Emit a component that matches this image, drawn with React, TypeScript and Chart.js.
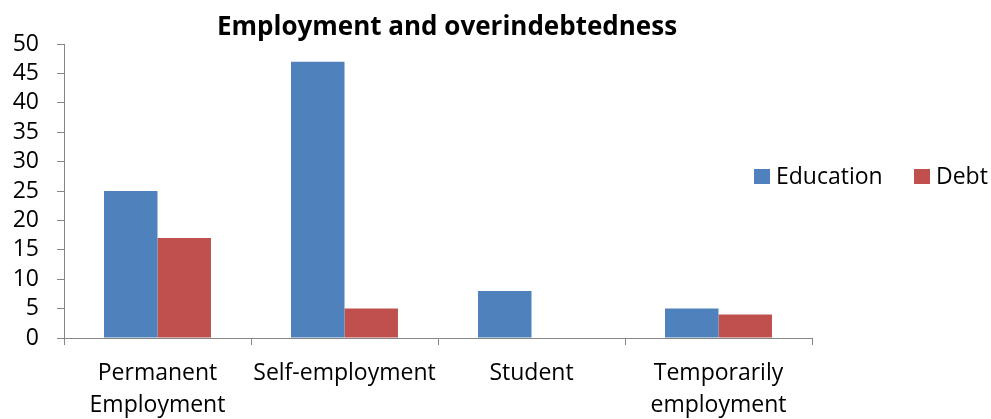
import React, { useEffect, useRef } from "react";
import { Chart, registerables } from "chart.js";

Chart.register(...registerables);

const categories: (string | string[])[] = [
  ["Permanent", "Employment"],
  "Self-employment",
  "Student",
  ["Temporarily", "employment"],
];
const educationValues = [25, 47, 8, 5];
const debtValues = [17, 5, 0, 4];
const seriesNames = ["Education", "Debt"];
const seriesColors = ["#4F81BD", "#C0504D"];
const chartTitle = "Employment and overindebtedness";

const FONT = "'Open Sans', 'DejaVu Sans', sans-serif";
const AXIS_GREY = "#868686";

// Title and the legend are painted by hand so the legend can sit beside the plot.
const titleAndLegend = {
  id: "titleAndLegend",
  afterDraw(chart: Chart) {
    const ctx = chart.ctx;
    ctx.save();
    ctx.fillStyle = "#000";
    ctx.font = `bold 26px ${FONT}`;
    ctx.textAlign = "center";
    ctx.textBaseline = "alphabetic";
    ctx.fillText(chartTitle, 447, 35);

    ctx.font = `23px ${FONT}`;
    ctx.textAlign = "left";
    ctx.textBaseline = "middle";
    const legendY = 177;
    const itemX = [754, 914];
    chart.data.datasets.forEach((ds, i) => {
      const x = itemX[i];
      ctx.fillStyle = ds.backgroundColor as string;
      ctx.fillRect(x, legendY - 8, 16, 15);
      ctx.fillStyle = "#000";
      ctx.fillText(ds.label as string, x + 22, legendY);
    });
    ctx.restore();
  },
};

export default function App() {
  const canvasRef = useRef<HTMLCanvasElement | null>(null);

  useEffect(() => {
    if (!canvasRef.current) return;
    const chart = new Chart(canvasRef.current, {
      type: "bar",
      data: {
        labels: categories,
        datasets: [
          {
            label: seriesNames[0],
            data: educationValues,
            backgroundColor: seriesColors[0],
            borderWidth: 0,
          },
          {
            label: seriesNames[1],
            data: debtValues,
            backgroundColor: seriesColors[1],
            borderWidth: 0,
          },
        ],
      },
      options: {
        animation: false,
        responsive: false,
        maintainAspectRatio: false,
        layout: { padding: { top: 44, right: 179, left: 0, bottom: 0 } },
        datasets: {
          bar: { categoryPercentage: 0.572, barPercentage: 1 },
        },
        plugins: {
          legend: { display: false },
          title: { display: false },
          tooltip: { enabled: false },
        },
        scales: {
          x: {
            grid: {
              drawOnChartArea: false,
              drawTicks: true,
              tickLength: 7,
              color: AXIS_GREY,
              offset: true,
            },
            border: { color: AXIS_GREY, width: 1 },
            ticks: {
              color: "#000",
              font: { family: FONT, size: 23, lineHeight: 1.4 },
              padding: 12,
              maxRotation: 0,
              autoSkip: false,
            },
            afterFit(scale: any) {
              scale.height = 81;
            },
          },
          y: {
            min: 0,
            max: 50,
            grid: {
              drawOnChartArea: false,
              drawTicks: true,
              tickLength: 7,
              color: AXIS_GREY,
            },
            border: { color: AXIS_GREY, width: 1 },
            ticks: {
              stepSize: 5,
              autoSkip: false,
              color: "#000",
              font: { family: FONT, size: 23 },
              padding: 18,
            },
            afterFit(scale: any) {
              scale.width = 64;
            },
          },
        },
      },
      plugins: [titleAndLegend],
    });
    return () => chart.destroy();
  }, []);

  return (
    <div style={{ position: "fixed", left: 0, top: 0, width: 991, height: 419, background: "#fff" }}>
      <canvas ref={canvasRef} width={991} height={419} style={{ display: "block" }} />
    </div>
  );
}
